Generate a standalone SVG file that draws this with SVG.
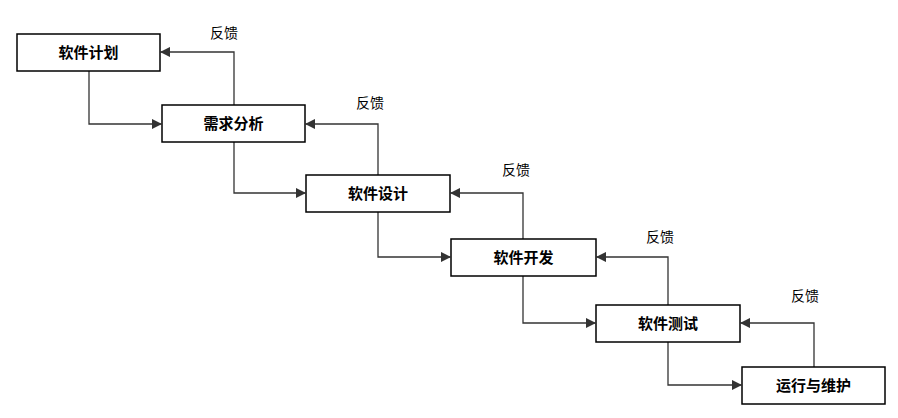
<svg xmlns="http://www.w3.org/2000/svg" width="898" height="418" viewBox="0 0 898 418">
<style>
.b{fill:#fff;stroke:#000;stroke-width:1.5}
.t{font-family:"Liberation Sans","Noto Sans CJK SC",sans-serif;font-size:15px;font-weight:bold;text-anchor:middle;fill:#000}
.f{font-family:"Liberation Sans","Noto Sans CJK SC",sans-serif;font-size:14px;text-anchor:middle;fill:#000}
.c{fill:none;stroke:#333;stroke-width:1.3;marker-end:url(#a)}
</style>
<defs><marker id="a" viewBox="0 0 10 10" refX="9" refY="5" markerWidth="8" markerHeight="8" orient="auto"><path d="M0,0L10,5L0,10z" fill="#333"/></marker></defs>
<rect width="898" height="418" fill="#fff"/>
<g id="connectors">
<path class="c" d="M89,71V124H161"/>
<path class="c" d="M234,105V52H161"/>
<path class="c" d="M234,142V193H305"/>
<path class="c" d="M378,175V124H306"/>
<path class="c" d="M378,212V257H450"/>
<path class="c" d="M523,239V193H451"/>
<path class="c" d="M523,276V323H595"/>
<path class="c" d="M668,305V257H597"/>
<path class="c" d="M668,342V385H741"/>
<path class="c" d="M814,367V323H741"/>
<text class="f" x="224" y="38">反馈</text>
<text class="f" x="370" y="108">反馈</text>
<text class="f" x="516" y="175">反馈</text>
<text class="f" x="660" y="242">反馈</text>
<text class="f" x="805" y="301">反馈</text>
</g>
<g id="n1"><rect class="b" x="17" y="34" width="143" height="37"/><text class="t" x="88.5" y="58">软件计划</text></g>
<g id="n2"><rect class="b" x="162" y="105" width="143" height="37"/><text class="t" x="233.5" y="129">需求分析</text></g>
<g id="n3"><rect class="b" x="306" y="175" width="144" height="37"/><text class="t" x="378" y="199">软件设计</text></g>
<g id="n4"><rect class="b" x="451" y="239" width="145" height="37"/><text class="t" x="523.5" y="263">软件开发</text></g>
<g id="n5"><rect class="b" x="596" y="305" width="144" height="37"/><text class="t" x="668" y="329">软件测试</text></g>
<g id="n6"><rect class="b" x="742" y="367" width="143" height="37"/><text class="t" x="813.5" y="391">运行与维护</text></g>
</svg>
